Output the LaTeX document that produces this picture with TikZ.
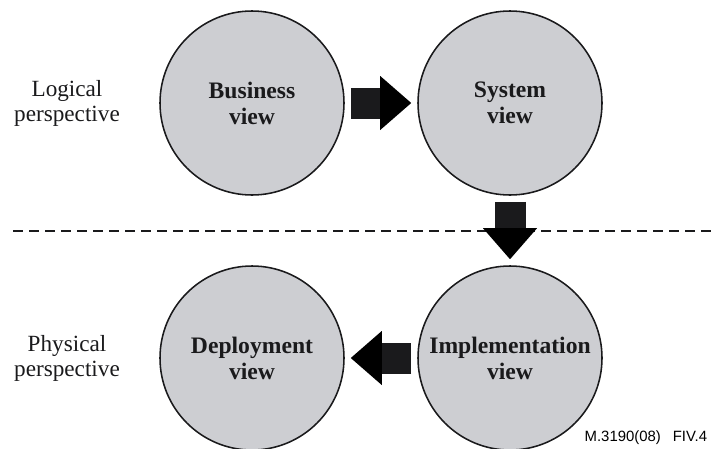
\documentclass[tikz,border=0pt]{standalone}
\usepackage{fontspec}
\setmainfont{Liberation Serif}
\newfontfamily\footfont{Liberation Sans}
\usetikzlibrary{arrows.meta}
\definecolor{viewgray}{RGB}{205,206,210}
\definecolor{inkblack}{RGB}{26,26,28}

\begin{document}
\begin{tikzpicture}[node distance=6.45cm,
    view node/.style={circle,draw=inkblack,line width=1.1pt,fill=viewgray,minimum size=4.6cm,inner sep=0pt,
                      align=center,text=inkblack,font=\bfseries\fontsize{16.8}{18.5}\selectfont},
    side node/.style={align=center,text=inkblack,font=\fontsize{16.5}{17.7}\selectfont},
    fat arrow/.style={draw=inkblack,line width=0.775cm,shorten <=0.15cm,shorten >=0.15cm,
                      -{Triangle[length=0.775cm,width=1.35cm,line width=0pt]}}]

  \useasboundingbox (0,0) rectangle (17.875,-11.2);

  \node[view node] (bus) at (6.3,-2.575) {Business\\view};
  \node[view node] (sys) [right of=bus] {System\\view};
  \node[view node] (impl) [below of=sys, node distance=6.375cm] {Implementation\\view};
  \node[view node] (dep) [left of=impl] {Deployment\\view};

  \node[side node] (logical) [left of=bus, node distance=4.625cm] {Logical\\perspective};
  \node[side node] (physical) [left of=dep, node distance=4.625cm] {Physical\\perspective};

  % border between the two perspectives
  \coordinate (divL) at (0.325,-5.775);
  \coordinate (divR) at (17.875,-5.775);
  \draw[inkblack,line width=0.05cm,dash pattern=on 0.25cm off 0.15cm] (divL) -- (divR);

  \path[fat arrow]
    (bus) edge (sys)
    (sys) edge (impl)
    (impl) edge (dep);

  \node[anchor=base east,font=\footfont\fontsize{10.6}{12}\selectfont] (figno) at (17.8,-11.025) {M.3190(08)\hspace{0.8em}FIV.4};
\end{tikzpicture}
\end{document}
